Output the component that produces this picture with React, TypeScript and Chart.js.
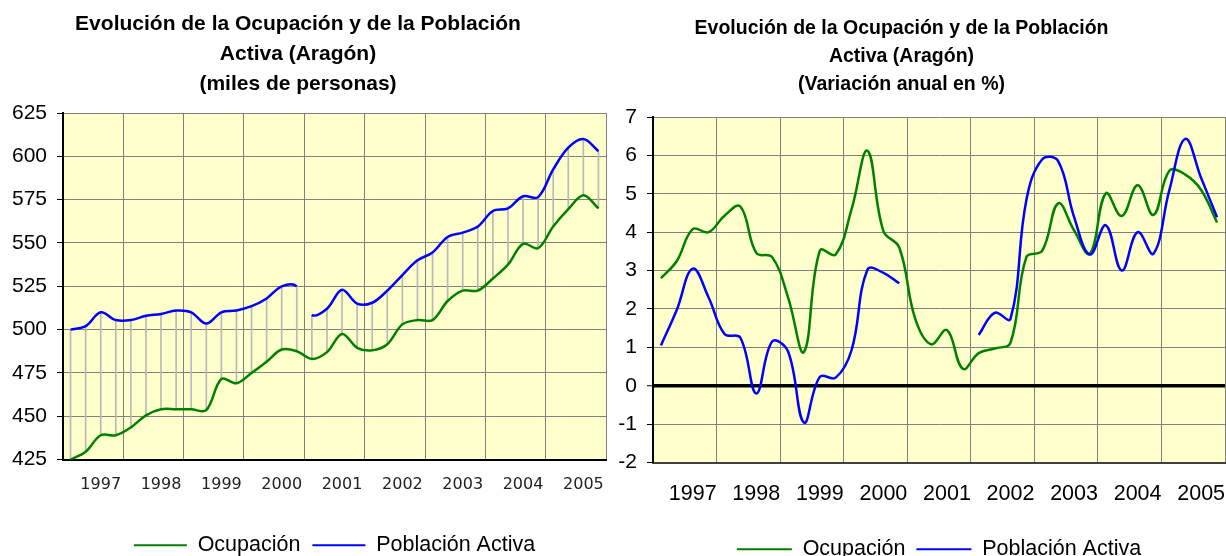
import React, { useEffect, useRef } from 'react';
import { Chart, registerables } from 'chart.js';

Chart.register(...registerables);

// ---- Data ----
const years: string[] = ['1997', '1998', '1999', '2000', '2001', '2002', '2003', '2004', '2005'];
const quarterNames: string[] = ['T1', 'T2', 'T3', 'T4'];
const categories: string[] = years.flatMap((y) => quarterNames.map((q) => `${y} ${q}`));

// Left chart: miles de personas
const ocupacionMiles: number[] = [
  425, 429.5, 439, 439, 443.5, 450.5, 454, 454, 454, 453.5, 471.5, 469,
  475, 481.5, 488.5, 487.5, 483, 487, 497.5, 489.5, 488, 491.5, 503, 505.5,
  505.5, 516.5, 522.5, 522.5, 529.5, 537.5, 549.5, 547, 559.5, 569.5, 577.5, 570,
];
const poblacionMiles: number[] = [
  500, 502, 510, 505.5, 505.5, 508, 509, 511, 510, 503.5, 510, 511,
  513.5, 518, 525, 525, 508.5, 512, 523, 515, 515.5, 522.5, 531.5, 540,
  544.5, 553.5, 556, 559.5, 568.5, 570, 577, 576.5, 592.5, 605, 610, 603,
];

// Right chart: variación anual en %
const ocupacionVar: number[] = [
  2.8, 3.25, 4.08, 4.0, 4.43, 4.67, 3.46, 3.35, 2.3, 0.88, 3.52, 3.42,
  4.6, 6.12, 4.03, 3.6, 1.75, 1.08, 1.45, 0.44, 0.85, 0.97, 1.12, 3.35,
  3.52, 4.75, 4.05, 3.44, 5.01, 4.42, 5.22, 4.45, 5.6, 5.5, 5.1, 4.25,
];
const poblacionVar: (number | null)[] = [
  1.05, 1.98, 3.05, 2.3, 1.35, 1.25, -0.2, 1.15, 0.89, -0.96, 0.23, 0.21,
  0.93, 3.03, 2.94, 2.67, null, null, null, null, 1.32, 1.9, 1.74, 4.84,
  5.9, 5.85, 4.4, 3.42, 4.18, 3.0, 4.0, 3.44, 5.1, 6.43, 5.41, 4.39,
];

const leftTicks: number[] = [425, 450, 475, 500, 525, 550, 575, 600, 625];
const rightTicks: number[] = [-2, -1, 0, 1, 2, 3, 4, 5, 6, 7];

const leftTitle: string[] = [
  'Evolución de la Ocupación y de la Población',
  'Activa (Aragón)',
  '(miles de personas)',
];
const rightTitle: string[] = [
  'Evolución de la Ocupación y de la Población',
  'Activa (Aragón)',
  '(Variación anual en %)',
];
const seriesNames: string[] = ['Ocupación', 'Población Activa'];

// ---- Styles ----
const GREEN = '#008000';
const BLUE = '#0000FF';
const PLOT_BG = '#FFFFCC';
const GRID = '#808080';
const ARIAL = "'Liberation Sans', Arial, sans-serif";
const VERDANA = "'DejaVu Sans', Verdana, sans-serif";

const plotBg = {
  id: 'plotBg',
  beforeDraw(chart: any) {
    const { ctx, chartArea: a } = chart;
    ctx.save();
    ctx.fillStyle = PLOT_BG;
    ctx.fillRect(a.left, a.top, a.right - a.left, a.bottom - a.top);
    ctx.restore();
  },
};

const legendLabels = (chart: any) =>
  Chart.defaults.plugins.legend.labels
    .generateLabels(chart)
    .filter((l: any) => l.datasetIndex < 2)
    .sort((a: any, b: any) => a.datasetIndex - b.datasetIndex)
    .map((l: any) => ({ ...l, lineWidth: 0 }));

const yearTick = (_v: any, i: number) => (i % 4 === 2 ? categories[i].slice(0, 4) : '');
const xGridColor = (ctx: any) =>
  ctx.index === undefined || ctx.index % 4 === 0 ? GRID : 'rgba(0,0,0,0)';

function LeftChart() {
  const ref = useRef<HTMLCanvasElement>(null);
  useEffect(() => {
    const chart = new Chart(ref.current!, {
      type: 'line',
      data: {
        labels: categories,
        datasets: [
          {
            type: 'line',
            label: seriesNames[0],
            data: ocupacionMiles,
            borderColor: GREEN,
            backgroundColor: GREEN,
            borderWidth: 2.5,
            pointRadius: 0,
            tension: 0.35,
            order: 0,
          },
          {
            type: 'line',
            label: seriesNames[1],
            data: poblacionMiles,
            borderColor: BLUE,
            backgroundColor: BLUE,
            borderWidth: 2.5,
            pointRadius: 0,
            tension: 0.35,
            order: 1,
            segment: {
              borderColor: (c: any) => (c.p0DataIndex === 15 ? 'rgba(0,0,0,0)' : undefined),
            },
          },
          {
            type: 'bar',
            label: 'hl',
            data: ocupacionMiles.map((g, i) => [g, poblacionMiles[i]]) as any,
            backgroundColor: '#B8B8B8',
            barThickness: 1,
            order: 5,
          } as any,
        ],
      },
      options: {
        animation: false,
        responsive: false,
        maintainAspectRatio: false,
        events: [],
        layout: { padding: { left: 0, right: 4, top: 0, bottom: 0 } },
        plugins: {
          title: {
            display: true,
            text: leftTitle,
            color: '#000',
            font: { family: ARIAL, size: 21, weight: 'bold', lineHeight: 1.43 },
            padding: { top: 9, bottom: 14 },
          },
          legend: {
            position: 'bottom',
            fullSize: false,
            labels: {
              generateLabels: legendLabels,
              boxWidth: 53,
              boxHeight: 2,
              color: '#000',
              font: { family: ARIAL, size: 21.5 },
              padding: 12,
            },
          },
          tooltip: { enabled: false },
        },
        scales: {
          x: {
            type: 'category',
            offset: true,
            grid: { offset: true, color: xGridColor, drawTicks: false, lineWidth: 1 },
            border: { color: '#000', width: 2 },
            ticks: {
              autoSkip: false,
              maxRotation: 0,
              callback: yearTick,
              color: '#222',
              font: { family: VERDANA, size: 16 },
              padding: 16,
            },
            afterFit: (s: any) => {
              s.height = 63;
              s.paddingLeft = 0;
              s.paddingRight = 0;
            },
          },
          y: {
            min: leftTicks[0],
            max: leftTicks[leftTicks.length - 1],
            afterBuildTicks: (s: any) => {
              s.ticks = leftTicks.map((v) => ({ value: v }));
            },
            grid: { color: GRID, tickLength: 6, tickColor: '#000' },
            border: { color: '#000', width: 2 },
            ticks: { color: '#000', font: { family: ARIAL, size: 21 }, padding: 10 },
            afterFit: (s: any) => {
              s.width = 73;
              s.paddingTop = 0;
              s.paddingBottom = 0;
            },
          },
        },
      },
      plugins: [plotBg],
    } as any);
    return () => chart.destroy();
  }, []);
  return (
    <canvas
      ref={ref}
      width={620}
      height={566}
      style={{ position: 'absolute', left: -10, top: 0, width: 620, height: 566 }}
    />
  );
}

function RightChart() {
  const ref = useRef<HTMLCanvasElement>(null);
  useEffect(() => {
    const chart = new Chart(ref.current!, {
      type: 'line',
      data: {
        labels: categories,
        datasets: [
          {
            label: seriesNames[0],
            data: ocupacionVar,
            borderColor: GREEN,
            backgroundColor: GREEN,
            borderWidth: 2.5,
            pointRadius: 0,
            tension: 0.4,
            order: 1,
          },
          {
            label: seriesNames[1],
            data: poblacionVar,
            borderColor: BLUE,
            backgroundColor: BLUE,
            borderWidth: 2.5,
            pointRadius: 0,
            tension: 0.4,
            spanGaps: false,
            order: 0,
          },
        ],
      },
      options: {
        animation: false,
        responsive: false,
        maintainAspectRatio: false,
        events: [],
        layout: { padding: { left: 0, right: 1, top: 0, bottom: 0 } },
        plugins: {
          title: {
            display: true,
            text: rightTitle,
            color: '#000',
            font: { family: ARIAL, size: 19.5, weight: 'bold', lineHeight: 1.436 },
            padding: { top: 15, bottom: 18 },
          },
          legend: {
            position: 'bottom',
            fullSize: false,
            labels: {
              generateLabels: legendLabels,
              boxWidth: 55,
              boxHeight: 2,
              color: '#000',
              font: { family: ARIAL, size: 21.5 },
              padding: 11,
            },
          },
          tooltip: { enabled: false },
        },
        scales: {
          x: {
            type: 'category',
            offset: true,
            grid: { offset: true, color: xGridColor, drawTicks: false, lineWidth: 1 },
            border: { color: '#404040', width: 2 },
            ticks: {
              autoSkip: false,
              maxRotation: 0,
              callback: yearTick,
              color: '#000',
              font: { family: ARIAL, size: 21.5 },
              padding: 19,
            },
            afterFit: (s: any) => {
              s.height = 65;
              s.paddingLeft = 0;
              s.paddingRight = 0;
            },
          },
          y: {
            min: rightTicks[0],
            max: rightTicks[rightTicks.length - 1],
            afterBuildTicks: (s: any) => {
              s.ticks = rightTicks.map((v) => ({ value: v }));
            },
            grid: {
              color: (c: any) => (c.tick && c.tick.value === 0 ? '#000' : GRID),
              lineWidth: (c: any) => (c.tick && c.tick.value === 0 ? 3.5 : 1),
              tickLength: 6,
              tickColor: '#000',
              tickWidth: 1,
            },
            border: { color: '#000', width: 2 },
            ticks: { color: '#000', font: { family: ARIAL, size: 21 }, padding: 10 },
            afterFit: (s: any) => {
              s.width = 75;
              s.paddingTop = 0;
              s.paddingBottom = 0;
            },
          },
        },
      },
      plugins: [plotBg],
    } as any);
    return () => chart.destroy();
  }, []);
  return (
    <canvas
      ref={ref}
      width={648}
      height={570}
      style={{ position: 'absolute', left: 578, top: 0, width: 648, height: 570 }}
    />
  );
}

export default function App() {
  return (
    <div
      style={{
        position: 'absolute',
        left: 0,
        top: 0,
        width: 1226,
        height: 556,
        overflow: 'hidden',
        background: '#fff',
      }}
    >
      <LeftChart />
      <RightChart />
    </div>
  );
}
